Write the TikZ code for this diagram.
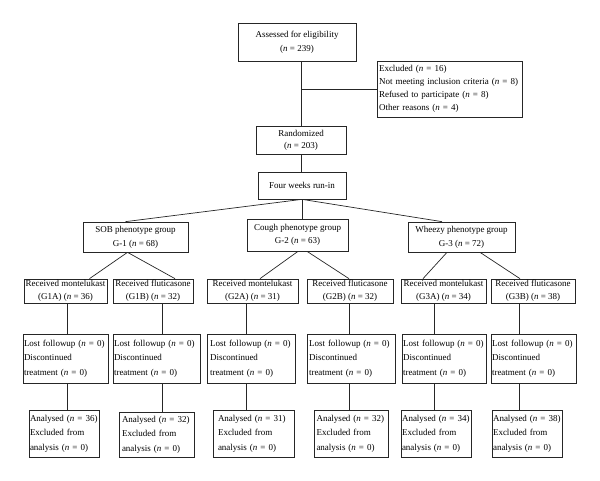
\documentclass[tikz,border=0pt]{standalone}
\usepackage{fontspec}
\setmainfont{Liberation Serif}
\begin{document}
\begin{tikzpicture}[x=1pt,y=-1pt,
  bx/.style={draw=black!85,line width=0.7pt,rectangle,inner sep=2pt,align=center,font=\fontsize{9}{14}\selectfont},
  bxl/.style={bx,align=left},
  ln/.style={draw=black!85,line width=0.7pt}]
\useasboundingbox (0,0) rectangle (600,481);
% top
\node[bx,minimum width=118,minimum height=38] (assess) at (297,42) {Assessed for eligibility\\(\textit{n} = 239)};
\node[bxl,text width=141,minimum height=56,font=\fontsize{9}{12.8}\selectfont] (excl) at (449.5,89) {Excluded (\textit{n} = 16)\\Not meeting inclusion criteria (\textit{n} = 8)\\Refused to participate (\textit{n} = 8)\\Other reasons (\textit{n} = 4)};
\node[bx,minimum width=90,minimum height=28,font=\fontsize{9}{12}\selectfont] (rand) at (301,140) {Randomized\\(\textit{n} = 203)};
\node[bx,minimum width=88,minimum height=27] (four) at (302,185.5) {Four weeks run-in};
% groups
\node[bx,minimum width=105,minimum height=30] (sob) at (135.5,237) {SOB phenotype group\\G-1 (\textit{n} = 68)};
\node[bx,minimum width=101,minimum height=32,font=\fontsize{9}{13}\selectfont] (cough) at (297.5,235) {Cough phenotype group\\G-2 (\textit{n} = 63)};
\node[bx,minimum width=107,minimum height=30] (wheezy) at (461.5,237) {Wheezy phenotype group\\G-3 (\textit{n} = 72)};
% received
\tikzset{rc/.style={bx,minimum height=24,inner sep=0.5pt,font=\fontsize{9}{12.5}\selectfont}}
\node[rc,minimum width=83] (g1a) at (65.5,291) {Received montelukast\\(G1A) (\textit{n} = 36)};
\node[rc,minimum width=80] (g1b) at (153,291) {Received fluticasone\\(G1B) (\textit{n} = 32)};
\node[rc,minimum width=91] (g2a) at (252.5,291) {Received montelukast\\(G2A) (\textit{n} = 31)};
\node[rc,minimum width=86] (g2b) at (350,291) {Received fluticasone\\(G2B) (\textit{n} = 32)};
\node[rc,minimum width=85] (g3a) at (443.5,291) {Received montelukast\\(G3A) (\textit{n} = 34)};
\node[rc,minimum width=84] (g3b) at (533,291) {Received fluticasone\\(G3B) (\textit{n} = 38)};
% lost
\tikzset{lo/.style={bxl,minimum height=49,inner sep=1pt,font=\fontsize{9}{14.3}\selectfont}}
\node[lo,text width=83] (l1) at (65.5,358.5) {Lost followup (\textit{n} = 0)\\Discontinued\\treatment (\textit{n} = 0)};
\node[lo,text width=85] (l2) at (156.5,358.5) {Lost followup (\textit{n} = 0)\\Discontinued\\treatment (\textit{n} = 0)};
\node[lo,inner xsep=3pt,text width=82] (l3) at (251,358.5) {Lost followup (\textit{n} = 0)\\Discontinued\\treatment (\textit{n} = 0)};
\node[lo,inner xsep=2pt,text width=84] (l4) at (351,358.5) {Lost followup (\textit{n} = 0)\\Discontinued\\treatment (\textit{n} = 0)};
\node[lo,text width=82] (l5) at (444,358.5) {Lost followup (\textit{n} = 0)\\Discontinued\\treatment (\textit{n} = 0)};
\node[lo,text width=83] (l6) at (533.5,358.5) {Lost followup (\textit{n} = 0)\\Discontinued\\treatment (\textit{n} = 0)};
% analysed
\tikzset{an/.style={bxl,minimum height=47,inner sep=1pt,font=\fontsize{9}{14.5}\selectfont}}
\node[an,text width=68] (a1) at (64,433.5) {Analysed (\textit{n} = 36)\\Excluded from\\analysis (\textit{n} = 0)};
\node[an,inner xsep=3pt,text width=69,minimum height=45] (a2) at (156.5,434.5) {Analysed (\textit{n} = 32)\\Excluded from\\analysis (\textit{n} = 0)};
\node[an,inner xsep=5pt,text width=71] (a3) at (253.5,433.5) {Analysed (\textit{n} = 31)\\Excluded from\\analysis (\textit{n} = 0)};
\node[an,inner xsep=2.5pt,text width=69] (a4) at (351,433.5) {Analysed (\textit{n} = 32)\\Excluded from\\analysis (\textit{n} = 0)};
\node[an,text width=68] (a5) at (436,433.5) {Analysed (\textit{n} = 34)\\Excluded from\\analysis (\textit{n} = 0)};
\node[an,text width=68] (a6) at (527,433.5) {Analysed (\textit{n} = 38)\\Excluded from\\analysis (\textit{n} = 0)};
% connectors top
\draw[ln] (rand.north |- assess.south) -- (rand.north);
\draw[ln] (rand.north |- excl.west) -- (excl.west);
\draw[ln] (rand.south) -- (rand.south |- four.north);
\draw[ln] (four.south) -- ([xshift=-10]sob.north);
\draw[ln] (four.south) -- (four.south |- cough.north);
\draw[ln] (four.south) -- ([xshift=-19.5]wheezy.north);
% groups to received
\draw[ln] ([xshift=-8]sob.south) -- ([xshift=24]g1a.north);
\draw[ln] ([xshift=-8]sob.south) -- ([xshift=22]g1b.north);
\draw[ln] ([xshift=0.5]cough.south) -- ([xshift=7.5]g2a.north);
\draw[ln] ([xshift=9.5]cough.south) -- ([xshift=-1]g2b.north);
\draw[ln] ([xshift=-14.5]wheezy.south) -- ([xshift=-20.5]g3a.north);
\draw[ln] ([xshift=18.5]wheezy.south) -- ([xshift=-13]g3b.north);
% verticals
\foreach \r/\l/\a/\d in {g1a/l1/a1/1.5, g1b/l2/a2/9, g2a/l3/a3/-6.5, g2b/l4/a4/-1, g3a/l5/a5/-9.5, g3b/l6/a6/-14}{
  \draw[ln] ([xshift=\d]\r.south) -- ([xshift=\d]\r.south |- \l.north);
  \draw[ln] ([xshift=\d]\r.south |- \l.south) -- ([xshift=\d]\r.south |- \a.north);
}
\end{tikzpicture}
\end{document}
